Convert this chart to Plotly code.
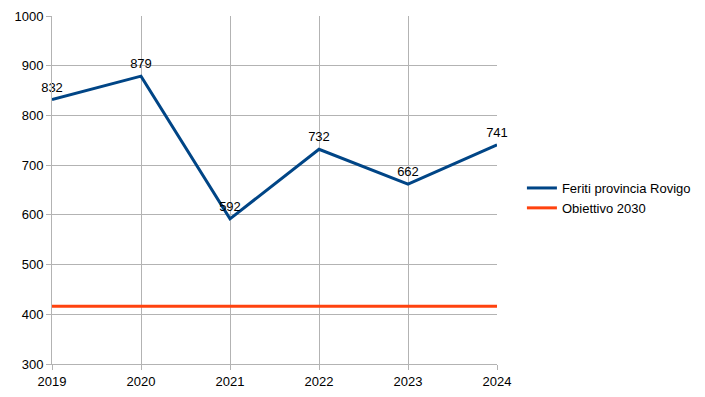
import plotly.graph_objects as go

years = [2019, 2020, 2021, 2022, 2023, 2024]
feriti = [832, 879, 592, 732, 662, 741]
obiettivo = [416, 416, 416, 416, 416, 416]
y_ticks = [300, 400, 500, 600, 700, 800, 900, 1000]

fig = go.Figure()
fig.add_trace(go.Scatter(
    x=years, y=feriti, mode="lines+markers+text", name="Feriti provincia Rovigo",
    line=dict(color="#004586", width=3),
    marker=dict(size=6, color="rgba(0,0,0,0)"),
    text=[str(v) for v in feriti], textposition="top center",
    textfont=dict(family="Liberation Sans", size=13, color="black"),
    cliponaxis=False,
))
fig.add_trace(go.Scatter(
    x=years, y=obiettivo, mode="lines", name="Obiettivo 2030",
    line=dict(color="#ff420e", width=3),
))

fig.update_layout(
    width=697, height=389,
    margin=dict(l=44, r=208, t=8, b=33, pad=0, autoexpand=False),
    paper_bgcolor="white", plot_bgcolor="white",
    font=dict(family="Liberation Sans", size=13, color="black"),
    legend=dict(x=1.056, y=0.477, yanchor="middle", xanchor="left",
                font=dict(size=13), tracegroupgap=0, itemwidth=30),
    showlegend=True,
)
fig.update_xaxes(
    range=[2019, 2024], tickvals=years, ticktext=[str(y) for y in years],
    showgrid=True, gridcolor="#b3b3b3", gridwidth=1, automargin=False,
    showline=True, linecolor="#b3b3b3", ticks="outside", tickcolor="#b3b3b3",
    ticklen=5, zeroline=False,
)
fig.update_yaxes(
    range=[300, 1000], tickvals=y_ticks,
    showgrid=True, gridcolor="#b3b3b3", gridwidth=1, automargin=False,
    showline=True, linecolor="#b3b3b3", ticks="outside", tickcolor="#b3b3b3",
    ticklen=5, zeroline=False,
)

fig.write_html("out.html")
